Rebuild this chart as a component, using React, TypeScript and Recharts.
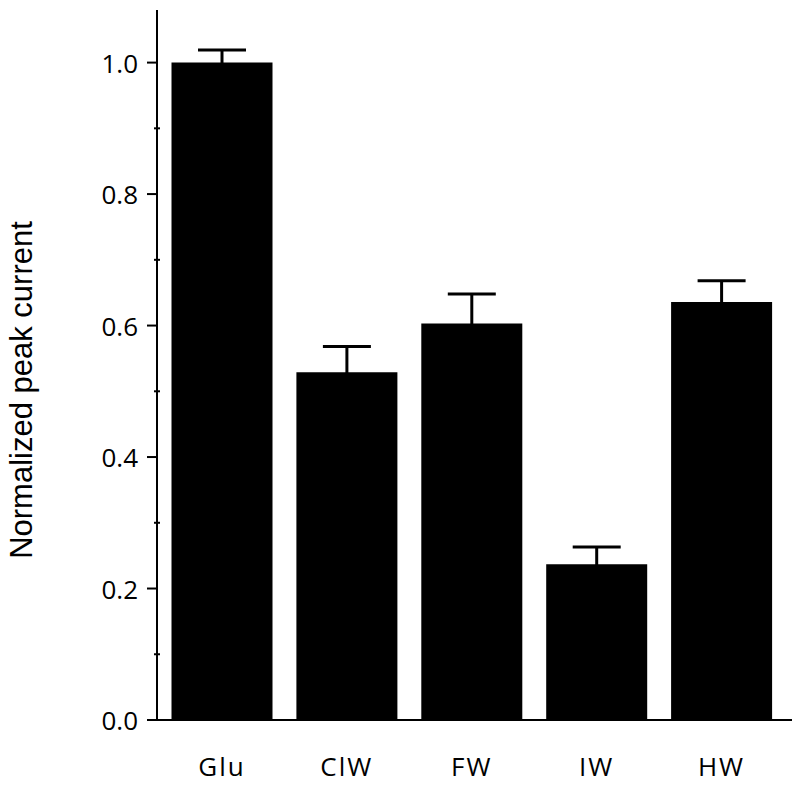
import { BarChart, Bar, XAxis, YAxis, ErrorBar } from "recharts";

const categories = ["Glu", "ClW", "FW", "IW", "HW"];
const peakCurrent = [1.0, 0.529, 0.603, 0.237, 0.636];
const upperError = [0.019, 0.039, 0.045, 0.026, 0.032];
const yTicks = [0, 0.1, 0.2, 0.3, 0.4, 0.5, 0.6, 0.7, 0.8, 0.9, 1.0];

// lower half of each error bar sits inside the black bar, so only the top shows
const data = categories.map((name, i) => ({
  name,
  value: peakCurrent[i],
  err: upperError[i],
}));

const numFont = "'Open Sans', 'Noto Sans', sans-serif";

function YTick(props: any) {
  const { x, y, payload } = props;
  const v = Math.round(payload.value * 10);
  const major = v % 2 === 0;
  if (!major) {
    return <line x1={x - 3} x2={x + 3} y1={y} y2={y} stroke="#000" strokeWidth={2} />;
  }
  return (
    <g>
      <line x1={x - 10} x2={x} y1={y} y2={y} stroke="#000" strokeWidth={2} />
      <text
        x={x - 19}
        y={y}
        textAnchor="end"
        dominantBaseline="central"
        fontFamily={numFont}
        fontSize={26}
        fill="#000"
      >
        {payload.value.toFixed(1)}
      </text>
    </g>
  );
}

function YLabel(props: any) {
  const { viewBox } = props;
  const cx = viewBox.x + 21;
  const cy = viewBox.y + viewBox.height / 2 + 25;
  return (
    <text
      x={cx}
      y={cy}
      transform={`rotate(-90, ${cx}, ${cy})`}
      textAnchor="middle"
      dominantBaseline="central"
      fontFamily="'Liberation Sans', Arial, sans-serif"
      fontSize={31}
      fill="#000"
    >
      Normalized peak current
    </text>
  );
}

export default function App() {
  return (
    <div style={{ position: "absolute", left: 0, top: 0, background: "#fff" }}>
      <BarChart
        width={800}
        height={794}
        data={data}
        margin={{ top: 10, right: 8, left: 0, bottom: 0 }}
      >
        <XAxis
          dataKey="name"
          height={74}
          padding={{ left: 2.5, right: 8 }}
          axisLine={{ stroke: "#000", strokeWidth: 2 }}
          tickLine={false}
          tickSize={0}
          tickMargin={38}
          tick={{ fill: "#000", fontSize: 26, fontFamily: numFont, letterSpacing: 2 }}
        />
        <YAxis
          width={157}
          domain={[0, 1.08]}
          ticks={yTicks}
          interval={0}
          axisLine={{ stroke: "#000", strokeWidth: 2 }}
          tickLine={false}
          tickSize={0}
          tickMargin={0}
          tick={<YTick />}
          label={<YLabel />}
        />
        <Bar dataKey="value" fill="#000" barSize={101} isAnimationActive={false}>
          <ErrorBar dataKey="err" direction="y" width={24} strokeWidth={3} stroke="#000" />
        </Bar>
      </BarChart>
    </div>
  );
}
